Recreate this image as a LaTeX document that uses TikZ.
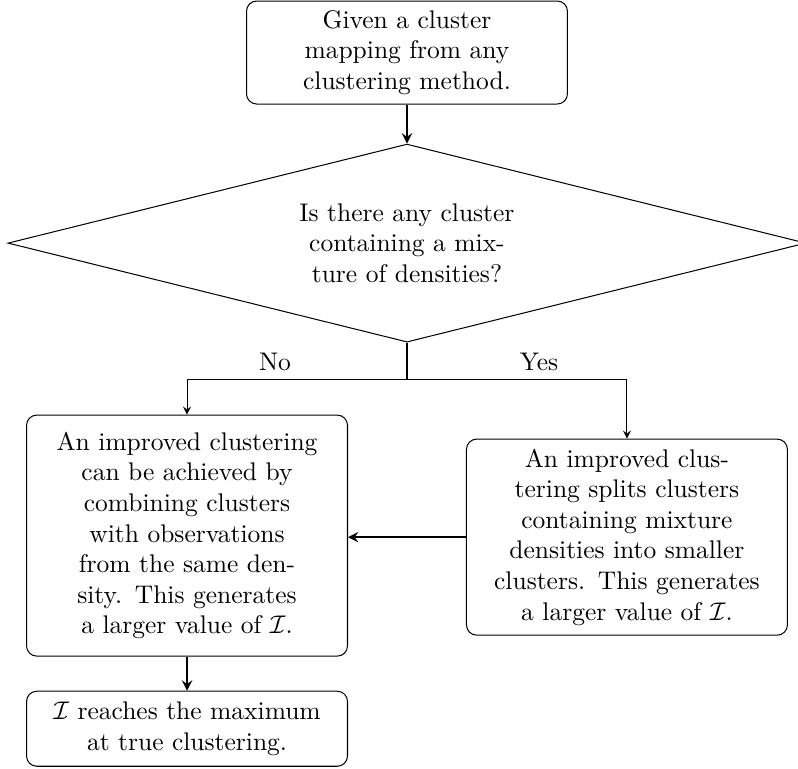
\documentclass[tikz,border=0pt]{standalone}
\usepackage{amsmath}
\usepackage{tikz}
\usetikzlibrary{shapes,arrows,positioning}

\begin{document}
\begin{tikzpicture}[
  node distance=5mm,
  box/.style={rectangle, rounded corners, draw, align=center, text width=3.7cm, inner xsep=10.3pt, inner ysep=3pt},
  query/.style={diamond, draw, align=center, text width=8.7em, inner sep=0pt, shape aspect=4, minimum width=11cm, minimum height=2.73cm},
  flow/.style={->,>=stealth,thick},
  branch/.style={->,>=stealth},
]
\useasboundingbox (0,0) rectangle (11.0,-10.6);
\node[box, minimum height=1.42cm] (given) at (5.61,-0.724) {Given a cluster mapping from any clustering method.};
\node[query, below=0.538cm of given] (mixture) {Is there any cluster containing a mixture of densities?};
\coordinate[below=0.51cm of mixture.south] (split);
\node[box, minimum height=3.322cm, below=0.992cm of mixture, xshift=-3.032cm] (combine) {An improved clustering\\ can be achieved by\\ combining clusters\\ with observations\\ from the same den-\\sity. This generates\\ a larger value of $\mathcal{I}$.};
\node[box, minimum height=2.702cm, below=1.323cm of mixture, xshift=3.032cm] (splits) {An improved clustering splits clusters containing mixture densities into smaller clusters. This generates a larger value of $\mathcal{I}$.};
\node[box, minimum height=1.034cm, below=0.47cm of combine] (maximum) {$\mathcal{I}$ reaches the maximum at true clustering.};

\draw[flow] (given) -- (mixture);
\draw[thick] (mixture) -- (split);
\draw[branch] (split) -| node[pos=0.3, above] {No} (combine);
\draw[branch] (split) -| node[pos=0.3, above] {Yes} (splits);
\draw[flow] (splits) -- (splits -| combine.east);
\draw[flow] (combine) -- (maximum);
\end{tikzpicture}
\end{document}
